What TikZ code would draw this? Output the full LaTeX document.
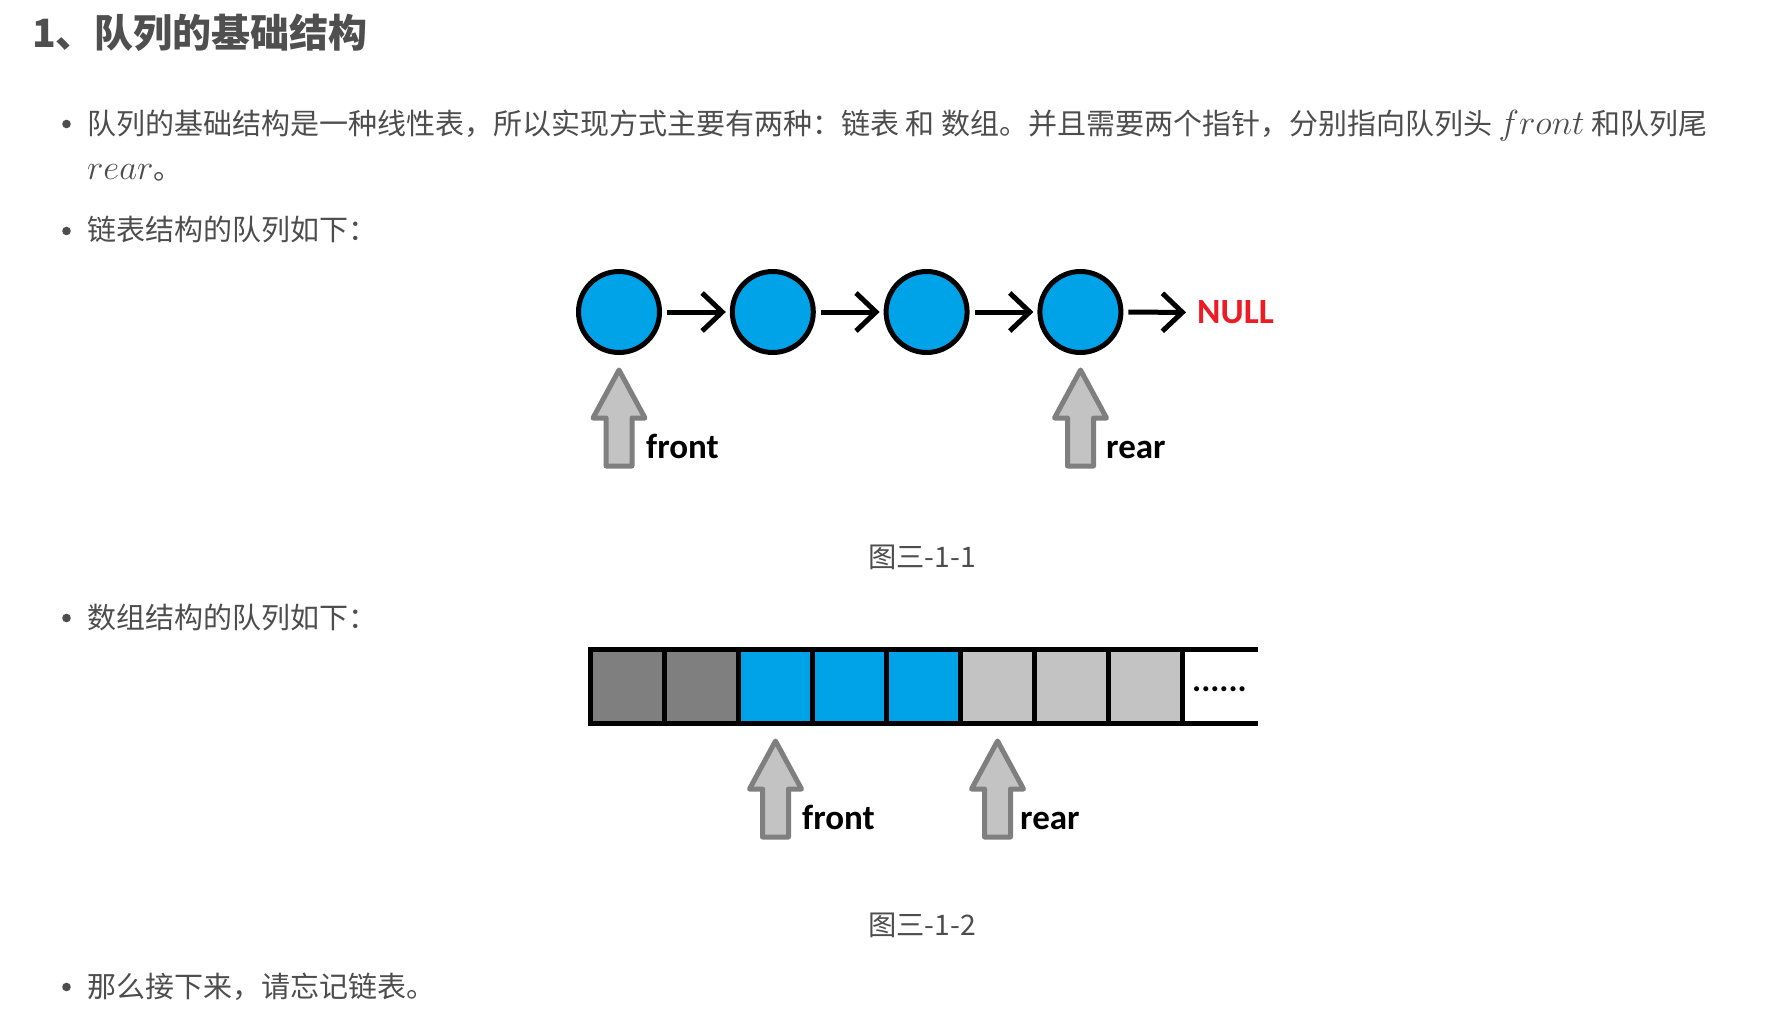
\RequirePackage{fix-cm}
\documentclass[tikz,border=0pt]{standalone}
\usepackage{fontspec}
\setmainfont{Noto Sans CJK SC}
\newfontfamily\paintfont{Carlito}
\definecolor{QueueBlue}{HTML}{00A2E8}
\definecolor{UsedGray}{HTML}{7F7F7F}
\definecolor{FreeGray}{HTML}{C3C3C3}
\definecolor{NullRed}{HTML}{ED1C24}
\definecolor{TextGray}{HTML}{4D4D4D}
\definecolor{TitleGray}{HTML}{4F4F4F}
\usetikzlibrary{arrows.meta, positioning}
\newcommand{\mvar}[1]{{\fontsize{34.8}{40}\selectfont$#1$}}

\begin{document}
\begin{tikzpicture}[
  x=1pt, y=-1pt,
  body/.style={anchor=base west, inner sep=0pt, text=TextGray, font=\fontsize{29}{34}\selectfont},
  caption/.style={anchor=base, inner sep=0pt, text=TextGray, font=\fontsize{28.3}{34}\selectfont},
  dot/.style={circle, fill=TextGray, minimum size=8.6pt, inner sep=0pt},
  elem/.style={circle, draw=black, line width=5pt, fill=QueueBlue, minimum size=81pt, inner sep=0pt},
  cell/.style={rectangle, draw=black, line width=5pt, minimum size=74pt, inner sep=0pt, outer sep=0pt},
  link/.style={line width=5pt, -{Straight Barb[length=20pt, width=38pt]}, shorten <=5pt, shorten >=4pt},
  ptr/.style={draw=UsedGray, fill=FreeGray, line width=5pt, line join=round},
  ptrlabel/.style={anchor=base west, inner sep=0pt, font=\paintfont\bfseries\fontsize{35}{40}\selectfont}
]
  \useasboundingbox[fill=white] (0,0) rectangle (1774,1016);

  % heading and list text
  \node[anchor=base west, inner sep=0pt, text=TitleGray, font=\bfseries\fontsize{39}{46}\selectfont] (title) at (32, 48) {1、队列的基础结构};
  \foreach \i/\y in {1/124, 2/231, 3/618, 4/987}
    \node[dot] (b\i) at (66.5, \y) {};
  \node[body] (t1) at (87, 135) {队列的基础结构是一种线性表，所以实现方式主要有两种：链表 和 数组。并且需要两个指针，分别指向队列头 \mvar{front} 和队列尾};
  \node[body] (t1b) at (87, 180) {\mvar{rear}。};
  \node[body] (t2) at (87, 241) {链表结构的队列如下：};
  \node[caption] (cap1) at (922, 567) {图三-1-1};
  \node[body] (t3) at (87, 628) {数组结构的队列如下：};
  \node[caption] (cap2) at (922, 935) {图三-1-2};
  \node[body] (t4) at (87, 997) {那么接下来，请忘记链表。};

  % linked list
  \foreach \i in {1,...,4}{
    \node[elem] (n\i) at ({465.2+153.8*\i}, 312) {};
  }
  \node[inner sep=0pt, anchor=west, text=NullRed, font=\paintfont\bfseries\fontsize{35.5}{40}\selectfont] (null) at (1197, 312.5) {NULL};
  \foreach \i/\j in {1/2, 2/3, 3/4}
    \draw[link] (n\i) -- (n\j);
  \draw[link, shorten >=11pt] (n4) -- (null);

  % array
  \foreach \i/\col in {1/UsedGray, 2/UsedGray, 3/QueueBlue, 4/QueueBlue, 5/QueueBlue, 6/FreeGray, 7/FreeGray, 8/FreeGray}{
    \node[cell, fill=\col] (a\i) at ({553.5+74*\i}, 686.5) {};
  }
  \draw[line width=5pt] (a8.north east) -- ++(75.5,0);
  \draw[line width=5pt] (a8.south east) -- ++(75.5,0);
  \node[ptrlabel, font=\paintfont\bfseries\fontsize{34}{40}\selectfont] (more) at (1192, 691) {......};

  % front / rear pointers
  \foreach \x/\y in {619/370, 1080.5/370, 775.5/741, 997.5/741}
    \draw[ptr] (\x,\y) -- ++(26,48) -- ++(-13,0) -- ++(0,48) -- ++(-26,0) -- ++(0,-48) -- ++(-13,0) -- cycle;
  \node[ptrlabel] (lfront) at (646, 458) {front};
  \node[ptrlabel] (lrear) at (1106, 458) {rear};
  \node[ptrlabel] (afront) at (802, 829) {front};
  \node[ptrlabel] (arear) at (1020, 829) {rear};
\end{tikzpicture}
\end{document}
